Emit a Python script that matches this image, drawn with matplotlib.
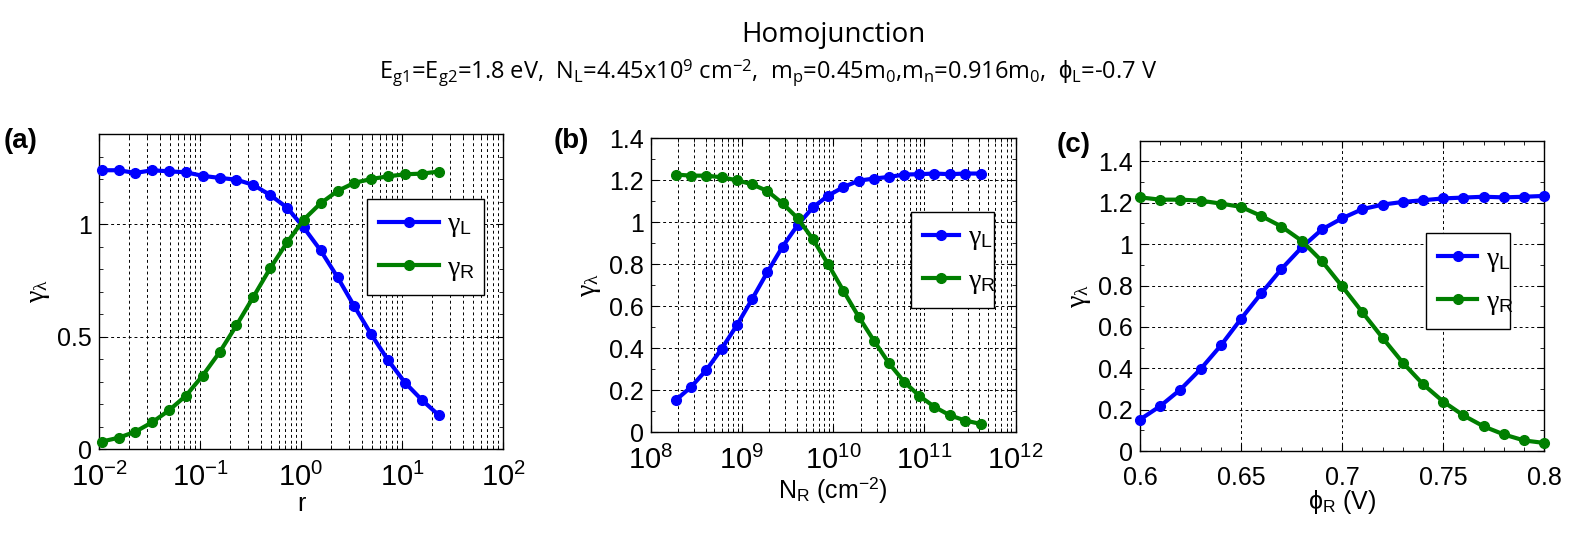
import numpy as np
import matplotlib
matplotlib.use('Agg')
import matplotlib.pyplot as plt
from matplotlib.ticker import LogLocator, MultipleLocator, NullFormatter

plt.rcParams['font.family'] = ['Liberation Sans', 'DejaVu Sans']
plt.rcParams['mathtext.fontset'] = 'custom'
plt.rcParams['mathtext.rm'] = 'Liberation Serif'
plt.rcParams['mathtext.it'] = 'Liberation Serif'
plt.rcParams['mathtext.sf'] = 'Liberation Sans'
plt.rcParams['mathtext.tt'] = 'Open Sans'
plt.rcParams['mathtext.default'] = 'rm'

# (a) gamma vs r
r_vals = [0.0106, 0.0156, 0.0229, 0.0336, 0.0493, 0.0724, 0.106, 0.156, 0.229, 0.336, 0.494,
          0.726, 1.06, 1.56, 2.30, 3.37, 4.94, 7.26, 10.7, 15.7, 23.0]
a_gL = [1.239, 1.239, 1.227, 1.239, 1.234, 1.230, 1.214, 1.205, 1.197, 1.174, 1.129,
        1.073, 0.985, 0.883, 0.763, 0.634, 0.510, 0.395, 0.295, 0.218, 0.151]
a_gR = [0.033, 0.050, 0.077, 0.119, 0.172, 0.237, 0.326, 0.430, 0.549, 0.675, 0.803,
        0.918, 1.019, 1.092, 1.147, 1.183, 1.200, 1.212, 1.221, 1.224, 1.233]

# (b) gamma vs N_R
nr_vals = [1.90e8, 2.79e8, 4.09e8, 6.01e8, 8.82e8, 1.29e9, 1.90e9, 2.79e9, 4.09e9, 6.01e9, 8.82e9,
           1.29e10, 1.90e10, 2.79e10, 4.09e10, 6.01e10, 8.82e10, 1.29e11, 1.90e11, 2.79e11, 4.13e11]
b_gL = [0.154, 0.217, 0.297, 0.398, 0.510, 0.633, 0.762, 0.884, 0.987, 1.071, 1.127,
        1.167, 1.198, 1.208, 1.216, 1.227, 1.229, 1.232, 1.229, 1.232, 1.232]
b_gR = [1.227, 1.222, 1.222, 1.214, 1.200, 1.181, 1.149, 1.090, 1.019, 0.919, 0.800,
        0.675, 0.551, 0.437, 0.329, 0.240, 0.173, 0.121, 0.081, 0.056, 0.040]

# (c) gamma vs phi_R
phi_vals = [0.60, 0.61, 0.62, 0.63, 0.64, 0.65, 0.66, 0.67, 0.68, 0.69, 0.70,
            0.71, 0.72, 0.73, 0.74, 0.75, 0.76, 0.77, 0.78, 0.79, 0.80]
c_gL = [0.152, 0.217, 0.297, 0.396, 0.510, 0.639, 0.762, 0.880, 0.984, 1.071, 1.125,
        1.169, 1.191, 1.204, 1.212, 1.221, 1.225, 1.229, 1.226, 1.229, 1.233]
c_gR = [1.226, 1.215, 1.215, 1.210, 1.196, 1.180, 1.136, 1.085, 1.016, 0.918, 0.796,
        0.671, 0.547, 0.427, 0.323, 0.239, 0.172, 0.119, 0.080, 0.051, 0.039]

BLUE = '#0000ff'
GREEN = '#007f00'
GRID = dict(color='k', linestyle=(0, (3, 3)), linewidth=0.7)

fig = plt.figure(figsize=(15.8, 5.38), dpi=100)

ax_a = fig.add_axes([0.0627, 0.1654, 0.2557, 0.5855])
ax_b = fig.add_axes([0.4118, 0.1965, 0.2310, 0.5465])
ax_c = fig.add_axes([0.7215, 0.1617, 0.2559, 0.5768])


def draw(ax, x, gl, gr, leg_box, hlen):
  ax.plot(x, gl, '-o', color=BLUE, lw=3, ms=7, mfc=BLUE, mec=BLUE, clip_on=False, zorder=4,
          label=r'$γ_{\mathsf{L}}$')
  ax.plot(x, gr, '-o', color=GREEN, lw=3, ms=7, mfc=GREEN, mec=GREEN, clip_on=False, zorder=4,
          label=r'$γ_{\mathsf{R}}$')
  ax.tick_params(which='both', direction='in', top=True, right=True, labelsize=18)
  ax.tick_params(axis='y', pad=5)
  ax.tick_params(axis='x', pad=10)
  ax.tick_params(which='major', length=5)
  ax.tick_params(which='minor', length=3)
  for s in ax.spines.values():
    s.set_linewidth(1.0)
  ax.set_ylabel(r'$γ_λ$', fontsize=20)
  leg = ax.legend(loc='upper left', bbox_to_anchor=leg_box, mode='expand', fontsize=20,
                  handlelength=hlen, fancybox=False, edgecolor='k', framealpha=1,
                  borderpad=0.45, labelspacing=0.55, handletextpad=0.3, borderaxespad=0)
  leg.get_frame().set_linewidth(1.0)
  return leg


def log_ticks(ax):
  ax.xaxis.set_major_locator(LogLocator(base=10, numticks=10))
  ax.xaxis.set_minor_locator(LogLocator(base=10, subs=np.arange(2, 10), numticks=20))
  ax.xaxis.set_minor_formatter(NullFormatter())
  ax.tick_params(axis='x', which='major', labelsize=21)
  ax.grid(True, which='major', axis='both', **GRID)
  ax.grid(True, which='minor', axis='x', **GRID)


# (a)
ax_a.set_xscale('log')
draw(ax_a, r_vals, a_gL, a_gR, (0.663, 0.476, 0.290, 0.318), 2.15)
ax_a.set_xlim(1e-2, 1e2)
ax_a.set_ylim(0, 1.4)
ax_a.set_yticks([0, 0.5, 1])
ax_a.set_yticklabels(['0', '0.5', '1'])
ax_a.yaxis.set_minor_locator(MultipleLocator(0.1))
log_ticks(ax_a)
ax_a.set_xlabel('r', fontsize=18, labelpad=0)

# (b)
ax_b.set_xscale('log')
draw(ax_b, nr_vals, b_gL, b_gR, (0.713, 0.413, 0.228, 0.337), 1.3)
ax_b.set_xlim(1e8, 1e12)
ax_b.set_ylim(0, 1.4)
ax_b.set_yticks(np.arange(0, 1.41, 0.2))
ax_b.set_yticklabels(['0', '0.2', '0.4', '0.6', '0.8', '1', '1.2', '1.4'])
ax_b.yaxis.set_minor_locator(MultipleLocator(0.1))
log_ticks(ax_b)
ax_b.set_xlabel(r'N$_{\mathsf{R}}$ (cm$^{\mathsf{-2}}$)', fontsize=18, labelpad=0)

# (c)
draw(ax_c, phi_vals, c_gL, c_gR, (0.707, 0.379, 0.208, 0.323), 1.4)
ax_c.set_xlim(0.6, 0.8)
ax_c.set_ylim(0, 1.5)
ax_c.set_xticks([0.6, 0.65, 0.7, 0.75, 0.8])
ax_c.set_xticklabels(['0.6', '0.65', '0.7', '0.75', '0.8'])
ax_c.set_yticks(np.arange(0, 1.41, 0.2))
ax_c.set_yticklabels(['0', '0.2', '0.4', '0.6', '0.8', '1', '1.2', '1.4'])
ax_c.xaxis.set_minor_locator(MultipleLocator(0.01))
ax_c.yaxis.set_minor_locator(MultipleLocator(0.1))
ax_c.tick_params(axis='x', pad=11)
ax_c.grid(True, which='major', **GRID)
ax_c.set_xlabel(r'$\mathsf{ϕ}_{\mathsf{R}}$ (V)', fontsize=18, labelpad=-2)

# panel letters
for x, y, s in [(21, 141, '(a)'), (571, 141, '(b)'), (1074, 145, '(c)')]:
  fig.text(x / 1580, 1 - y / 538, s, fontsize=20, fontweight='bold', ha='center', va='center')

# title
fig.text(833 / 1580, 1 - 35 / 538, 'Homojunction', family='Open Sans', fontsize=20,
         ha='center', va='center')
sub = (r'E$_{\mathtt{g1}}$=E$_{\mathtt{g2}}$=1.8 eV,  N$_{\mathtt{L}}$=4.45x10$^{\mathtt{9}}$ cm$^{\mathtt{-2}}$,  '
       r'm$_{\mathtt{p}}$=0.45m$_{\mathtt{0}}$,m$_{\mathtt{n}}$=0.916m$_{\mathtt{0}}$,  '
       r'$\mathsf{ϕ}_{\mathtt{L}}$=-0.7 V')
fig.text(768 / 1580, 1 - 73 / 538, sub, family='Open Sans', fontsize=17, ha='center', va='center')

fig.savefig('out.png', dpi=100)
